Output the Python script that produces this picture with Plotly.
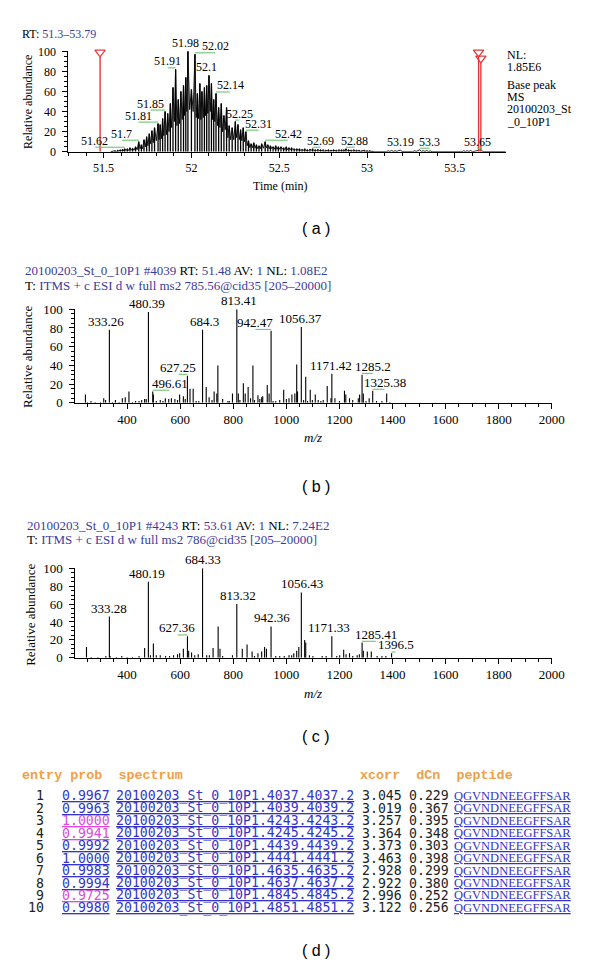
import plotly.graph_objects as go

W, H = 600, 975
SERIF = "Liberation Serif"
MONO = "DejaVu Sans Mono"
BLUE_T = "#3b3b9e"

# ---------------- (a) chromatogram data ----------------
chrom_peak_t = [51.550, 51.565, 51.580, 51.595, 51.608, 51.620, 51.635, 51.650, 51.665, 51.682,
                51.700, 51.715, 51.730, 51.745, 51.760, 51.775, 51.790, 51.810, 51.822, 51.836,
                51.850, 51.865, 51.880, 51.895, 51.910, 51.925, 51.940, 51.955, 51.968, 51.980,
                52.000, 52.020, 52.034, 52.048, 52.060, 52.074, 52.087, 52.100, 52.114, 52.127,
                52.140, 52.155, 52.170, 52.185, 52.200, 52.215, 52.232, 52.250, 52.265, 52.280,
                52.295, 52.310, 52.325, 52.340, 52.355, 52.370, 52.385, 52.400, 52.420, 52.435,
                52.450, 52.465, 52.480, 52.495, 52.510, 52.525, 52.540, 52.555, 52.570, 52.585,
                52.600, 52.615, 52.630, 52.645, 52.660, 52.675, 52.690, 52.705, 52.720, 52.735,
                52.750, 52.765, 52.780, 52.795, 52.810, 52.825, 52.840, 52.855, 52.868, 52.880,
                52.895, 52.910, 52.925, 52.940, 52.955, 52.970, 52.985, 53.000, 53.015, 53.030]
chrom_peak_i = [0.5, 1, 1.5, 2, 2.5, 3, 3, 4, 3.5, 5,
                10, 7, 12, 15, 18, 21, 24, 28, 27, 33,
                40, 38, 48, 64, 82, 52, 60, 66, 74, 100,
                62, 97, 58, 68, 60, 64, 66, 76, 68, 52,
                58, 44, 48, 36, 44, 26, 24, 30, 27, 22,
                24, 20, 11, 8, 9, 7, 6, 8, 10, 7,
                6, 5, 6, 5, 5, 4, 5, 4, 4, 3,
                3, 3, 2.5, 3, 2, 2.5, 3, 2, 2.5, 2,
                2, 1.5, 2, 1.5, 2, 1.5, 2, 2, 2, 3,
                2, 1.5, 2, 1.5, 1.5, 1, 1.5, 1, 1, 0.5]
chrom_trough_i = [0.2, 0.4, 0.6, 0.8, 1, 1.2, 1.2, 1.5, 1.5, 2,
                  3, 3, 5, 6, 8, 9, 11, 12, 13, 16,
                  17, 20, 24, 30, 26, 28, 32, 36, 40, 42,
                  40, 34, 33, 32, 34, 36, 38, 40, 32, 30,
                  26, 24, 20, 22, 14, 12, 12, 14, 12, 11,
                  10, 6, 4, 4, 3.5, 3, 3, 3.5, 4, 3,
                  3, 2.5, 2.5, 2.5, 2.5, 2, 2, 2, 2, 1.5,
                  1.5, 1.2, 1.2, 1, 1.2, 1.2, 1, 1.2, 1, 1,
                  0.8, 1, 0.8, 1, 0.8, 1, 1, 1, 1.2, 1,
                  0.8, 1, 0.8, 0.8, 0.5, 0.8, 0.5, 0.5, 0.3]
tail_t = [53.04, 53.11, 53.12, 53.13, 53.14, 53.15, 53.16, 53.17, 53.18, 53.19, 53.20, 53.21,
          53.26, 53.27, 53.28, 53.29, 53.30, 53.31, 53.32, 53.33, 53.34, 53.35, 53.36, 53.37,
          53.54, 53.55, 53.56, 53.57, 53.58, 53.59, 53.60, 53.65, 53.66, 53.79]
tail_i = [0, 0, 1, 0.3, 1.2, 0.3, 1, 0.3, 1.2, 1.5, 0.3, 0,
          0, 1, 0.3, 1.2, 2, 0.3, 1, 0.3, 1.2, 0.3, 0.8, 0,
          0, 1, 0.3, 1, 0.3, 1.2, 0, 2, 0, 0]
chrom_labels = ["51.62", "51.7", "51.81", "51.85", "51.91", "51.98", "52.02", "52.1", "52.14",
                "52.25", "52.31", "52.42", "52.69", "52.88", "53.19", "53.3", "53.65"]
marker_rt = [51.48, 53.635, 53.648]
marker_top = [99, 99, 93]
chrom_x_ticks = [51.5, 52, 52.5, 53, 53.5]

# ---------------- (b) spectrum #4039 ----------------
b_mz = [243, 250, 264, 280, 300, 312, 319, 333.26, 345, 356, 370, 382, 393, 407, 420, 432, 445, 455,
        466, 472, 480.39, 496.61, 499, 510, 525, 535, 544, 557, 567, 580, 590, 598, 612, 619,
        627.25, 637, 649, 660, 670, 684.3, 698, 709, 720, 728, 738, 742, 760, 780, 785, 797,
        813.41, 819, 825, 838, 845, 856, 865, 874, 880, 893, 900, 907, 911, 928, 935, 942.47,
        950, 960, 975, 990, 1000, 1010, 1021, 1032, 1039, 1042, 1056.37, 1065, 1073, 1080,
        1090, 1098, 1109, 1120, 1130, 1139, 1154, 1168, 1171.42, 1183, 1200, 1219, 1224, 1238,
        1250, 1271, 1276, 1285.2, 1290, 1300, 1312, 1325.38, 1340, 1360, 1378, 1390]
b_int = [9, 1, 2, 1, 1, 5, 3, 78, 1, 3, 1, 5, 6, 12, 1, 2, 2, 3,
         4, 4, 97, 12, 9, 2, 3, 2, 5, 4, 5, 4, 3, 9, 7, 4,
         29, 15, 15, 2, 2, 78, 17, 6, 3, 12, 10, 40, 4, 2, 2, 10,
         100, 10, 3, 21, 10, 17, 5, 40, 3, 8, 4, 6, 7, 19, 10, 77,
         2, 2, 3, 14, 4, 5, 9, 10, 41, 12, 81, 3, 28, 2,
         14, 3, 9, 3, 2, 3, 18, 5, 31, 5, 2, 13, 9, 5,
         3, 5, 9, 30, 10, 2, 5, 13, 2, 2, 10, 1]
b_labels = ["333.26", "480.39", "496.61", "627.25", "684.3", "813.41", "942.47",
            "1056.37", "1171.42", "1285.2", "1325.38"]

# ---------------- (c) spectrum #4243 ----------------
c_mz = [247, 265, 290, 320, 333.28, 336, 360, 380, 400, 420, 445, 466, 480.19, 488, 499, 510,
        525, 545, 560, 575, 590, 598, 612, 627.36, 632, 643, 655, 668, 684.33, 700, 710, 724,
        743, 750, 760, 797, 813.32, 834, 852, 871, 880, 893, 907, 918, 925, 942.36, 960, 975,
        992, 1010, 1020, 1028, 1039, 1047, 1056.43, 1069, 1073, 1087, 1100, 1135, 1150,
        1171.33, 1190, 1201, 1216, 1225, 1238, 1250, 1267, 1275, 1285.41, 1290, 1305, 1320,
        1342, 1360, 1375, 1396.5]
c_int = [12, 1, 1, 2, 46, 2, 1, 2, 1, 1, 2, 11, 85, 3, 16, 3,
         3, 2, 2, 3, 4, 5, 10, 24, 8, 6, 3, 4, 100, 3, 3, 11,
         35, 10, 2, 3, 60, 10, 15, 7, 2, 5, 7, 12, 10, 35, 2, 2,
         2, 3, 3, 5, 8, 12, 73, 20, 17, 3, 2, 2, 2,
         24, 2, 3, 9, 4, 5, 2, 3, 4, 17, 8, 7, 7,
         2, 2, 2, 5]
c_labels = ["333.28", "480.19", "627.36", "684.33", "813.32", "942.36", "1056.43",
            "1171.33", "1285.41", "1396.5"]
spec_x_ticks = [400, 600, 800, 1000, 1200, 1400, 1600, 1800, 2000]

# ---------------- (d) table ----------------
entries = ["1", "2", "3", "4", "5", "6", "7", "8", "9", "10"]
probs = ["0.9967", "0.9963", "1.0000", "0.9941", "0.9992", "1.0000", "0.9983", "0.9994", "0.9725", "0.9980"]
spectra = ["20100203_St_0_10P1.4037.4037.2", "20100203_St_0_10P1.4039.4039.2",
           "20100203_St_0_10P1.4243.4243.2", "20100203_St_0_10P1.4245.4245.2",
           "20100203_St_0_10P1.4439.4439.2", "20100203_St_0_10P1.4441.4441.2",
           "20100203_St_0_10P1.4635.4635.2", "20100203_St_0_10P1.4637.4637.2",
           "20100203_St_0_10P1.4845.4845.2", "20100203_St_0_10P1.4851.4851.2"]
xcorrs = ["3.045", "3.019", "3.257", "3.364", "3.373", "3.463", "2.928", "2.922", "2.996", "3.122"]
dcns = ["0.229", "0.367", "0.395", "0.348", "0.303", "0.398", "0.299", "0.380", "0.252", "0.256"]
peptides = ["QGVNDNEEGFFSAR"] * 10

# ---------------- layout / style parameters ----------------
A_DOM_X = (70, 517); A_DOM_Y = (45, 147); A_RANGE = (51.3, 53.79)
S_DOM_X = (77, 564); S_RANGE = (205, 2000)
B_DOM_Y = (307, 402); C_DOM_Y = (570, 661)
a_label_dx = [-30, -17, -20, -15, -8, -2, 21, -2, 14, 4, 13, 23, 8, 9, 0, 10, -4]
b_label_dx = [-3, -1, 17, -9, 2, 2.5, -16, -1, -0.6, 11, 12]
c_label_dx = [0, -1, -10, 0.5, 1.5, 1, 0.5, -2.5, 14, 4]
prob_magenta = [False, False, True, True, False, False, False, False, True, False]
GREEN = "#5fc05f"
RED = "#e23a3a"
LINK = "#3434c8"
MAGENTA = "#e048e0"
ORANGE = "#f0a048"
TFS = 13.2


def ydom(p):
    return [1 - p[1] / H, 1 - p[0] / H]


def xdom(p):
    return [p[0] / W, p[1] / W]


def A(x, y, text, size=12, color="black", family=SERIF, xanchor="left", yanchor="middle",
      angle=0, under=False):
    f = dict(family=family, size=size, color=color)
    if under:
        f["lineposition"] = "under"
    return dict(x=x / W, y=1 - y / H, xref="paper", yref="paper", text=text, showarrow=False,
                font=f, xanchor=xanchor, yanchor=yanchor, textangle=angle)


fig = go.Figure()

# ---- (a) traces
zx, zy = [51.54], [0]
for k, t in enumerate(chrom_peak_t):
    zx.append(t); zy.append(chrom_peak_i[k])
    if k < len(chrom_trough_i):
        zx.append((t + chrom_peak_t[k + 1]) / 2); zy.append(chrom_trough_i[k])
zx += tail_t; zy += tail_i
fig.add_trace(go.Scatter(x=zx, y=zy, mode="lines", line=dict(color="black", width=0.9),
                         xaxis="x", yaxis="y", hoverinfo="skip"))
sx, sy = [], []
for t, v in zip(chrom_peak_t, chrom_peak_i):
    sx += [t, t, None]; sy += [0, v, None]
fig.add_trace(go.Scatter(x=sx, y=sy, mode="lines", line=dict(color="black", width=1.3),
                         xaxis="x", yaxis="y", hoverinfo="skip"))

# red markers
rx, ry = [], []
for t, v in zip(marker_rt, marker_top):
    rx += [t, t, None]; ry += [0, v - 4.5, None]
fig.add_trace(go.Scatter(x=rx, y=ry, mode="lines", line=dict(color=RED, width=1.4),
                         xaxis="x", yaxis="y", hoverinfo="skip"))
fig.add_trace(go.Scatter(x=marker_rt, y=marker_top, mode="markers",
                         marker=dict(symbol="triangle-down-open", size=9, color=RED,
                                     line=dict(width=1.3, color=RED)),
                         xaxis="x", yaxis="y", hoverinfo="skip", cliponaxis=False))

all_t = chrom_peak_t + tail_t
all_i = chrom_peak_i + tail_i
a_px_per_unit = (A_DOM_X[1] - A_DOM_X[0]) / (A_RANGE[1] - A_RANGE[0])
annotations = []
for lab, dx in zip(chrom_labels, a_label_dx):
    v = float(lab)
    j = min(range(len(all_t)), key=lambda q: abs(all_t[q] - v))
    h = all_i[j]
    annotations.append(dict(x=v, y=h, xref="x", yref="y", text=lab, showarrow=False,
                            xshift=dx, yshift=-1, yanchor="bottom",
                            font=dict(family=SERIF, size=12, color="black")))
    if abs(dx) >= 3.5:
        fig.add_trace(go.Scatter(x=[v, v + dx / a_px_per_unit], y=[h + 1.5, h + 1.5], mode="lines",
                                 line=dict(color=GREEN, width=1), xaxis="x", yaxis="y", hoverinfo="skip"))


# ---- spectra
def add_spectrum(mz, inten, labels, dxs, xa, ya):
    px, py = [], []
    for m, v in zip(mz, inten):
        px += [m, m, None]; py += [0, v, None]
    fig.add_trace(go.Scatter(x=px, y=py, mode="lines", line=dict(color="black", width=1.1),
                             xaxis=xa, yaxis=ya, hoverinfo="skip"))
    ppu = (S_DOM_X[1] - S_DOM_X[0]) / (S_RANGE[1] - S_RANGE[0])
    for lab, dx in zip(labels, dxs):
        m = float(lab)
        h = inten[mz.index(m)]
        annotations.append(dict(x=m, y=h, xref=xa, yref=ya, text=lab, showarrow=False,
                                xshift=dx, yshift=-1, yanchor="bottom",
                                font=dict(family=SERIF, size=13, color="black")))
        if abs(dx) >= 3.5:
            fig.add_trace(go.Scatter(x=[m, m + dx / ppu], y=[h + 1.5, h + 1.5], mode="lines",
                                     line=dict(color=GREEN, width=1), xaxis=xa, yaxis=ya, hoverinfo="skip"))


add_spectrum(b_mz, b_int, b_labels, b_label_dx, "x2", "y2")
add_spectrum(c_mz, c_int, c_labels, c_label_dx, "x3", "y3")


def yaxis(dom, fs):
    return dict(domain=ydom(dom), range=[0, 100], dtick=20, tick0=0, ticks="outside", ticklen=5,
                tickcolor="black", tickwidth=1,
                minor=dict(ticks="outside", ticklen=3, dtick=5, tick0=0, tickcolor="black"),
                showline=True, linecolor="black", linewidth=1, showgrid=False, zeroline=False,
                tickfont=dict(family=SERIF, size=fs, color="black"), ticklabelstandoff=4,
                fixedrange=True)


def xaxis(dom, rng, ticks, minor_dt, fs, anchor):
    return dict(domain=xdom(dom), range=list(rng), tickmode="array", tickvals=ticks,
                ticktext=[("%g" % t) for t in ticks], ticks="outside", ticklen=5, tickcolor="black",
                minor=dict(ticks="outside", ticklen=3, dtick=minor_dt, tick0=ticks[0], tickcolor="black"),
                showline=True, linecolor="black", linewidth=1, showgrid=False, zeroline=False,
                tickfont=dict(family=SERIF, size=fs, color="black"), anchor=anchor, fixedrange=True)


fig.update_layout(
    width=W, height=H, margin=dict(l=0, r=0, t=0, b=0), showlegend=False,
    paper_bgcolor="white", plot_bgcolor="white",
    xaxis=xaxis(A_DOM_X, A_RANGE, chrom_x_ticks, 0.1, 12, "y"),
    yaxis=yaxis(A_DOM_Y, 12),
    xaxis2=xaxis(S_DOM_X, S_RANGE, spec_x_ticks, 50, 13, "y2"),
    yaxis2=dict(yaxis(B_DOM_Y, 13), anchor="x2"),
    xaxis3=xaxis(S_DOM_X, S_RANGE, spec_x_ticks, 50, 13, "y3"),
    yaxis3=dict(yaxis(C_DOM_Y, 13), anchor="x3"),
)
fig.layout.xaxis.minor.tick0 = 51.3

# ---- text: panel (a)
annotations.append(A(20, 27, "RT: <span style='color:%s'>51.3–53.79</span>" % BLUE_T, 12))
annotations.append(A(28, 96, "Relative abundance", 12, angle=-90, xanchor="center"))
annotations.append(A(287, 182, "Time (min)", 12, xanchor="center"))
for yy, tx in [(49, "NL:"), (61, "1.85E6"), (79, "Base peak"), (91, "MS"), (104, "20100203_St"), (117, "_0_10P1")]:
    annotations.append(A(516, yy, tx, 12))
annotations.append(A(323, 225, "( a )", 16, family="Liberation Sans", xanchor="center"))

# ---- text: panel (b)
annotations.append(A(24, 268, "<span style='color:%s'>20100203_St_0_10P1 #4039</span> RT: <span style='color:%s'>51.48</span> AV: <span style='color:%s'>1</span> NL: <span style='color:%s'>1.08E2</span>" % (BLUE_T, BLUE_T, BLUE_T, BLUE_T), 13))
annotations.append(A(24, 283, "T: <span style='color:%s'>ITMS + c ESI d w full ms2 785.56@cid35 [205–20000]</span>" % BLUE_T, 13))
annotations.append(A(28, 355, "Relative abundance", 13, angle=-90, xanchor="center"))
annotations.append(A(320, 437, "<i>m/z</i>", 13, xanchor="center"))
annotations.append(A(323, 487, "( b )", 16, family="Liberation Sans", xanchor="center"))

# ---- text: panel (c)
annotations.append(A(26, 527, "<span style='color:%s'>20100203_St_0_10P1 #4243</span> RT: <span style='color:%s'>53.61</span> AV: <span style='color:%s'>1</span> NL: <span style='color:%s'>7.24E2</span>" % (BLUE_T, BLUE_T, BLUE_T, BLUE_T), 13))
annotations.append(A(26, 541, "T: <span style='color:%s'>ITMS + c ESI d w full ms2 786@cid35 [205–20000]</span>" % BLUE_T, 13))
annotations.append(A(31, 617, "Relative abundance", 13, angle=-90, xanchor="center"))
annotations.append(A(320, 697, "<i>m/z</i>", 13, xanchor="center"))
annotations.append(A(323, 741, "( c )", 16, family="Liberation Sans", xanchor="center"))

# ---- table (d)
annotations.append(A(20, 781, "<b>entry prob  spectrum</b>", 13.4, ORANGE, family="Liberation Mono"))
annotations.append(A(366, 781, "<b>xcorr  dCn  peptide</b>", 13.4, ORANGE, family="Liberation Mono"))
ROW_Y0, ROW_DY = 801, 12.67
for i in range(10):
    y = ROW_Y0 + i * ROW_DY
    annotations.append(A(47, y, entries[i], TFS, "#222222", family=MONO, xanchor="right"))
    annotations.append(A(61, y, probs[i], TFS, MAGENTA if prob_magenta[i] else LINK, family=MONO, under=True))
    annotations.append(A(117, y, spectra[i], TFS, LINK, family=MONO, under=True))
    annotations.append(A(368, y, xcorrs[i], TFS, "#222222", family=MONO))
    annotations.append(A(416, y, dcns[i], TFS, "#222222", family=MONO))
    annotations.append(A(462, y, peptides[i], 12.5, LINK, family=SERIF, under=True))
annotations.append(A(323, 958, "( d )", 16, family="Liberation Sans", xanchor="center"))

fig.update_layout(annotations=annotations)
fig.write_html("out.html", config={"displayModeBar": False},
               post_script="document.body.style.margin='0';document.body.style.padding='0';")
